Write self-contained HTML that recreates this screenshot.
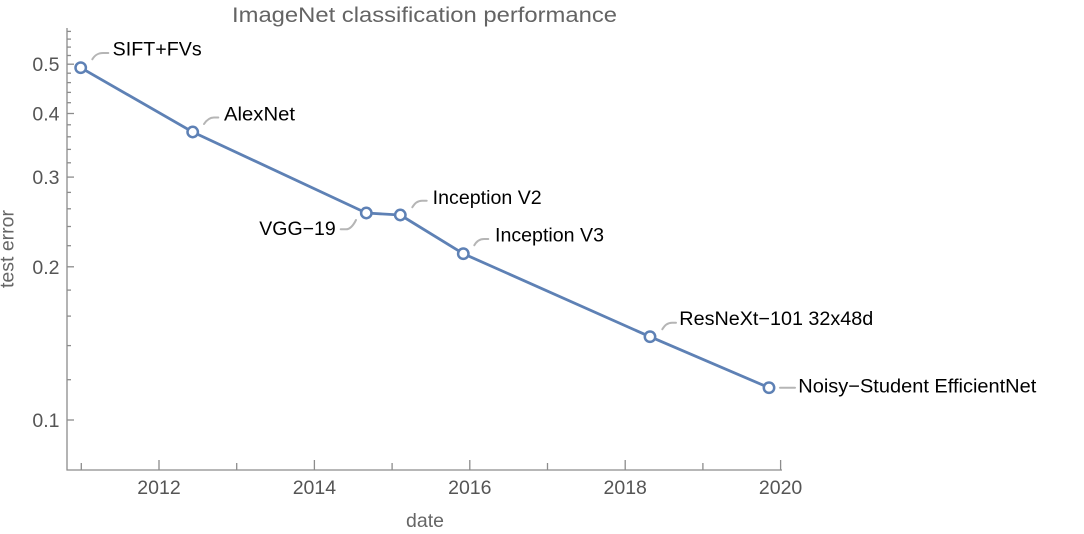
<!DOCTYPE html>
<html>
<head>
<meta charset="utf-8">
<style>
html,body{margin:0;padding:0;background:#fff;}
svg{display:block;}
text{font-family:"Liberation Sans",Arial,Helvetica,sans-serif;}
</style>
</head>
<body>
<svg width="1084" height="534" viewBox="0 0 1084 534" xmlns="http://www.w3.org/2000/svg">
<rect width="1084" height="534" fill="#fff"/>
<!-- title -->
<text x="232" y="22" font-size="21.5" fill="#646464" textLength="385" lengthAdjust="spacingAndGlyphs">ImageNet classification performance</text>

<!-- axes -->
<g stroke="#8c8c8c" stroke-width="1.3" fill="none">
<line x1="67" y1="28" x2="67" y2="470.5"/>
<line x1="66.5" y1="470" x2="782" y2="470"/>
<!-- x major ticks -->
<line x1="159" y1="470" x2="159" y2="460"/>
<line x1="314.4" y1="470" x2="314.4" y2="460"/>
<line x1="469.8" y1="470" x2="469.8" y2="460"/>
<line x1="625.2" y1="470" x2="625.2" y2="460"/>
<line x1="780.6" y1="470" x2="780.6" y2="460"/>
<!-- x minor ticks -->
<line x1="81.3" y1="470" x2="81.3" y2="463"/>
<line x1="236.7" y1="470" x2="236.7" y2="463"/>
<line x1="392.1" y1="470" x2="392.1" y2="463"/>
<line x1="547.5" y1="470" x2="547.5" y2="463"/>
<line x1="702.9" y1="470" x2="702.9" y2="463"/>
<!-- y major ticks -->
<line x1="67" y1="420" x2="74" y2="420"/>
<line x1="67" y1="266.8" x2="74" y2="266.8"/>
<line x1="67" y1="177.1" x2="74" y2="177.1"/>
<line x1="67" y1="113.5" x2="74" y2="113.5"/>
<line x1="67" y1="64.2" x2="74" y2="64.2"/>
<!-- y minor ticks -->
<line x1="67" y1="379.7" x2="71" y2="379.7"/>
<line x1="67" y1="345.6" x2="71" y2="345.6"/>
<line x1="67" y1="316.1" x2="71" y2="316.1"/>
<line x1="67" y1="290.1" x2="71" y2="290.1"/>
<line x1="67" y1="245.7" x2="71" y2="245.7"/>
<line x1="67" y1="226.5" x2="71" y2="226.5"/>
<line x1="67" y1="208.8" x2="71" y2="208.8"/>
<line x1="67" y1="192.4" x2="71" y2="192.4"/>
<line x1="67" y1="162.8" x2="71" y2="162.8"/>
<line x1="67" y1="149.4" x2="71" y2="149.4"/>
<line x1="67" y1="136.8" x2="71" y2="136.8"/>
<line x1="67" y1="124.8" x2="71" y2="124.8"/>
<line x1="67" y1="102.7" x2="71" y2="102.7"/>
<line x1="67" y1="92.4" x2="71" y2="92.4"/>
<line x1="67" y1="82.6" x2="71" y2="82.6"/>
<line x1="67" y1="73.2" x2="71" y2="73.2"/>
<line x1="67" y1="55.5" x2="71" y2="55.5"/>
<line x1="67" y1="47.1" x2="71" y2="47.1"/>
<line x1="67" y1="39.1" x2="71" y2="39.1"/>
<line x1="67" y1="31.4" x2="71" y2="31.4"/>
</g>

<!-- tick labels -->
<g font-size="19.5" fill="#555" text-anchor="middle">
<text x="159" y="494">2012</text>
<text x="314.4" y="494">2014</text>
<text x="469.8" y="494">2016</text>
<text x="625.2" y="494">2018</text>
<text x="780.6" y="494">2020</text>
</g>
<g font-size="19.5" fill="#555" text-anchor="end">
<text x="59.5" y="427">0.1</text>
<text x="59.5" y="273.8">0.2</text>
<text x="59.5" y="184.1">0.3</text>
<text x="59.5" y="120.5">0.4</text>
<text x="59.5" y="71.2">0.5</text>
</g>

<!-- axis labels -->
<text x="425" y="527" font-size="19.5" fill="#666" text-anchor="middle">date</text>
<text transform="translate(13.5,249) rotate(-90)" font-size="19.5" fill="#666" text-anchor="middle">test error</text>

<!-- leader lines -->
<g stroke="#b5b5b5" stroke-width="2" fill="none" stroke-linecap="round">
<path d="M92.3,59.3 C95,55 98,53 103,53 L108.3,53"/>
<path d="M204,124 C207,119.5 210,117.5 214,117.5 L218.3,117.5"/>
<path d="M412.3,207.3 C415,202.5 418,200.7 422,200.7 L426.7,200.7"/>
<path d="M356,220 C353,226 350,229.3 346,229.3 L340.7,229.3"/>
<path d="M474.3,245.3 C477,240.5 480,239 484,239 L488.3,239"/>
<path d="M662.3,329.3 C665,324.5 668,322.7 672,322.7 L676,322.7"/>
<path d="M780,387.7 L795,387.7"/>
</g>

<!-- series -->
<polyline fill="none" stroke="#5E81B5" stroke-width="2.8" stroke-linejoin="round"
 points="80.7,67.7 192.7,132 366.3,213 400.3,215 463.3,253.7 650,336.7 769,387.7"/>
<g fill="#fff" stroke="#5E81B5" stroke-width="2.5">
<circle cx="80.7" cy="67.7" r="5.2"/>
<circle cx="192.7" cy="132" r="5.2"/>
<circle cx="366.3" cy="213" r="5.2"/>
<circle cx="400.3" cy="215" r="5.2"/>
<circle cx="463.3" cy="253.7" r="5.2"/>
<circle cx="650" cy="336.7" r="5.2"/>
<circle cx="769" cy="387.7" r="5.2"/>
</g>

<!-- point labels -->
<g font-size="19.5" fill="#000">
<text x="112.7" y="55.7" textLength="89" lengthAdjust="spacingAndGlyphs">SIFT+FVs</text>
<text x="224" y="120.7" textLength="71" lengthAdjust="spacingAndGlyphs">AlexNet</text>
<text x="432.7" y="204" textLength="109" lengthAdjust="spacingAndGlyphs">Inception V2</text>
<text x="259.3" y="235" textLength="76.4" lengthAdjust="spacingAndGlyphs">VGG−19</text>
<text x="495" y="241.7" textLength="109" lengthAdjust="spacingAndGlyphs">Inception V3</text>
<text x="679.3" y="325" textLength="194" lengthAdjust="spacingAndGlyphs">ResNeXt−101 32x48d</text>
<text x="798.3" y="392.7" textLength="238" lengthAdjust="spacingAndGlyphs">Noisy−Student EfficientNet</text>
</g>
</svg>
</body>
</html>
